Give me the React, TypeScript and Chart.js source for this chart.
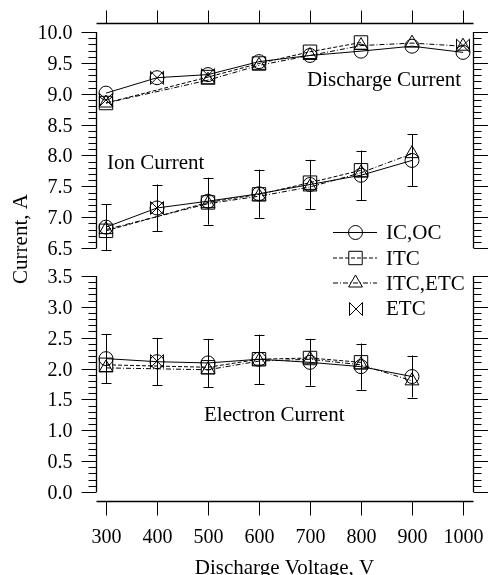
import React, { useEffect, useRef } from "react";
import { Chart, registerables } from "chart.js";

Chart.register(...registerables);

// Discharge voltage, V
const voltages = [300, 400, 500, 600, 700, 800, 900, 1000];

// Discharge current, A
const dischargeICOC = [9.01, 9.26, 9.31, 9.52, 9.62, 9.69, 9.77, 9.67];
const dischargeITC = [8.85, null, 9.27, 9.49, 9.68, 9.83, null, null];
const dischargeITCETC = [8.85, null, 9.22, 9.46, 9.62, 9.78, 9.82, 9.77];
const dischargeETC = [8.9, 9.26, 9.3, null, null, null, null, 9.78];

// Ion current, A
const ionICOC = [6.84, 7.15, 7.26, 7.38, 7.53, 7.68, 7.92, null];
const ionICOCErr = [0.37, 0.38, 0.38, 0.39, 0.4, 0.4, 0.42, null];
const ionITC = [6.78, null, 7.24, 7.37, 7.56, 7.76, null, null];
const ionITCETC = [6.8, null, 7.22, 7.34, 7.49, 7.72, 8.03, null];
const ionETC = [null, 7.15, null, null, null, null, null, null];

// Electron current, A
const electronICOC = [2.16, 2.11, 2.09, 2.15, 2.1, 2.03, 1.87, null];
const electronICOCErr = [0.4, 0.385, 0.39, 0.4, 0.38, 0.375, 0.34, null];
const electronITC = [2.06, null, 2.02, 2.15, 2.17, 2.1, null, null];
const electronITCETC = [2.01, null, 1.98, 2.12, 2.15, 2.06, 1.8, null];
const electronETC = [null, 2.12, null, null, null, null, null, null];

// Axis ticks
const xTickValues = [300, 400, 500, 600, 700, 800, 900, 1000];
const yTicksLower = [0.0, 0.5, 1.0, 1.5, 2.0, 2.5, 3.0, 3.5];
const yTicksUpper = [6.5, 7.0, 7.5, 8.0, 8.5, 9.0, 9.5, 10.0];

const legendLabels = ["IC,OC", "ITC", "ITC,ETC", "ETC"];
const regionLabels = ["Discharge Current", "Ion Current", "Electron Current"];
const xTitle = "Discharge Voltage, V";
const yTitle = "Current, A";

// Broken current axis: 3.5 A and 6.5 A sit next to each other
const BREAK_LOW = 3.5;
const BREAK_HIGH = 6.5;
const BREAK_GAP = 0.45;
const mapY = (v: number) => (v <= BREAK_LOW ? v : v - BREAK_HIGH + BREAK_LOW + BREAK_GAP);

const SERIF = "'Liberation Serif', 'Times New Roman', serif";
const TICK_FONT = `20px ${SERIF}`;
const TEXT_FONT = `21px ${SERIF}`;

function makeBowtie(): HTMLCanvasElement {
  const c = document.createElement("canvas");
  c.width = 16;
  c.height = 16;
  const g = c.getContext("2d")!;
  g.strokeStyle = "#000";
  g.lineWidth = 1;
  g.beginPath();
  g.moveTo(1.5, 1.5);
  g.lineTo(1.5, 14.5);
  g.moveTo(14.5, 1.5);
  g.lineTo(14.5, 14.5);
  g.moveTo(1.5, 1.5);
  g.lineTo(14.5, 14.5);
  g.moveTo(1.5, 14.5);
  g.lineTo(14.5, 1.5);
  g.stroke();
  return c;
}

type Series = {
  label: string;
  dash: number[];
  style: any;
  radius: number;
  showLine: boolean;
};

function toPoints(vals: (number | null)[]) {
  const pts: { x: number; y: number }[] = [];
  vals.forEach((v, i) => {
    if (v !== null) pts.push({ x: voltages[i], y: mapY(v) });
  });
  return pts;
}

function drawMarker(ctx: CanvasRenderingContext2D, s: Series, x: number, y: number) {
  ctx.beginPath();
  if (s.style === "circle") {
    ctx.arc(x, y, s.radius, 0, Math.PI * 2);
    ctx.stroke();
  } else if (s.style === "rect") {
    const h = s.radius * Math.SQRT1_2;
    ctx.rect(x - h, y - h, 2 * h, 2 * h);
    ctx.stroke();
  } else if (s.style === "triangle") {
    const r = s.radius;
    ctx.moveTo(x, y - r);
    ctx.lineTo(x + r * Math.cos(Math.PI / 6), y + r / 2);
    ctx.lineTo(x - r * Math.cos(Math.PI / 6), y + r / 2);
    ctx.closePath();
    ctx.stroke();
  } else {
    const img = s.style as HTMLCanvasElement;
    ctx.drawImage(img, Math.round(x - img.width / 2), Math.round(y - img.height / 2));
  }
}

export default function App() {
  const ref = useRef<HTMLCanvasElement | null>(null);

  useEffect(() => {
    const canvas = ref.current;
    if (!canvas) return;
    const bowtie = makeBowtie();

    const series: Series[] = [
      { label: legendLabels[0], dash: [], style: "circle", radius: 7, showLine: true },
      { label: legendLabels[1], dash: [4, 2], style: "rect", radius: 9.5, showLine: true },
      { label: legendLabels[2], dash: [5, 2, 1, 2], style: "triangle", radius: 8, showLine: true },
      { label: legendLabels[3], dash: [], style: bowtie, radius: 7, showLine: false },
    ];

    const groups: (number | null)[][][] = [
      [dischargeICOC, dischargeITC, dischargeITCETC, dischargeETC],
      [ionICOC, ionITC, ionITCETC, ionETC],
      [electronICOC, electronITC, electronITCETC, electronETC],
    ];

    const datasets: any[] = [];
    groups.forEach((g) => {
      g.forEach((vals, si) => {
        const s = series[si];
        datasets.push({
          label: s.label,
          data: toPoints(vals),
          borderColor: "#000",
          borderWidth: 1,
          borderDash: s.dash,
          showLine: s.showLine,
          fill: false,
          tension: 0,
          pointStyle: s.style,
          pointRadius: s.radius,
          pointHoverRadius: s.radius,
          pointBorderColor: "#000",
          pointBackgroundColor: "rgba(0,0,0,0)",
          pointBorderWidth: 1,
          clip: false,
        });
      });
    });

    const errorSets: [(number | null)[], (number | null)[]][] = [
      [ionICOC, ionICOCErr],
      [electronICOC, electronICOCErr],
    ];

    const decor = {
      id: "decor",
      afterDatasetsDraw(chart: any) {
        const ctx = chart.ctx as CanvasRenderingContext2D;
        const xs = chart.scales.x;
        const ys = chart.scales.y;
        ctx.save();
        ctx.strokeStyle = "#000";
        ctx.lineWidth = 1;
        ctx.setLineDash([]);
        // error bars
        errorSets.forEach(([vals, errs]) => {
          vals.forEach((v, i) => {
            const e = errs[i];
            if (v === null || e === null) return;
            const px = Math.round(xs.getPixelForValue(voltages[i])) + 0.5;
            const top = ys.getPixelForValue(mapY(v + e));
            const bot = ys.getPixelForValue(mapY(v - e));
            ctx.beginPath();
            ctx.moveTo(px, top);
            ctx.lineTo(px, bot);
            ctx.moveTo(px - 5, Math.round(top) + 0.5);
            ctx.lineTo(px + 5, Math.round(top) + 0.5);
            ctx.moveTo(px - 5, Math.round(bot) + 0.5);
            ctx.lineTo(px + 5, Math.round(bot) + 0.5);
            ctx.stroke();
          });
        });
        ctx.restore();
      },
      afterDraw(chart: any) {
        const ctx = chart.ctx as CanvasRenderingContext2D;
        const xs = chart.scales.x;
        const ys = chart.scales.y;
        const area = chart.chartArea;
        const leftX = Math.round(area.left - 10) + 0.5;
        const rightX = Math.round(area.right + 10) + 0.5;
        const topY = Math.round(area.top - 9) + 0.5;
        const botY = Math.round(area.bottom + 9) + 0.5;
        ctx.save();
        ctx.strokeStyle = "#000";
        ctx.fillStyle = "#000";
        ctx.setLineDash([]);

        // vertical axes, drawn in two segments around the break
        const segments: [number, number][] = [
          [yTicksLower[0], yTicksLower[yTicksLower.length - 1]],
          [yTicksUpper[0], yTicksUpper[yTicksUpper.length - 1]],
        ];
        segments.forEach(([lo, hi]) => {
          const pLo = ys.getPixelForValue(mapY(lo));
          const pHi = ys.getPixelForValue(mapY(hi));
          ctx.lineWidth = 1.3;
          ctx.beginPath();
          ctx.moveTo(leftX, pLo);
          ctx.lineTo(leftX, pHi);
          ctx.moveTo(rightX, pLo);
          ctx.lineTo(rightX, pHi);
          ctx.stroke();
          ctx.lineWidth = 1;
          const steps = Math.round((hi - lo) / 0.1);
          for (let k = 0; k <= steps; k++) {
            const v = lo + k * 0.1;
            const major = k % 5 === 0;
            const py = Math.round(ys.getPixelForValue(mapY(v))) + 0.5;
            const len = major ? 15 : 8;
            ctx.beginPath();
            ctx.moveTo(leftX - len, py);
            ctx.lineTo(leftX, py);
            ctx.moveTo(rightX, py);
            ctx.lineTo(rightX + len, py);
            ctx.stroke();
          }
        });

        // y tick labels
        ctx.font = TICK_FONT;
        ctx.textAlign = "right";
        ctx.textBaseline = "alphabetic";
        [...yTicksLower, ...yTicksUpper].forEach((v) => {
          const py = ys.getPixelForValue(mapY(v));
          ctx.fillText(v.toFixed(1), leftX - 24, py + 7);
        });

        // horizontal axes
        ctx.lineWidth = 1.3;
        ctx.beginPath();
        ctx.moveTo(leftX, topY);
        ctx.lineTo(rightX, topY);
        ctx.moveTo(leftX, botY);
        ctx.lineTo(rightX, botY);
        ctx.stroke();
        ctx.lineWidth = 1;
        ctx.textAlign = "center";
        xTickValues.forEach((v) => {
          const px = Math.round(xs.getPixelForValue(v)) + 0.5;
          ctx.beginPath();
          ctx.moveTo(px, topY - 13);
          ctx.lineTo(px, topY);
          ctx.moveTo(px, botY);
          ctx.lineTo(px, botY + 14);
          ctx.stroke();
          ctx.fillText(String(v), px, botY + 41);
        });

        // axis titles
        ctx.font = TEXT_FONT;
        ctx.fillText(xTitle, (area.left + area.right) / 2, 574);
        ctx.save();
        ctx.translate(27, 239);
        ctx.rotate(-Math.PI / 2);
        ctx.textAlign = "center";
        ctx.fillText(yTitle, 0, 0);
        ctx.restore();

        // region labels
        ctx.textAlign = "left";
        ctx.fillText(regionLabels[0], 307, 86);
        ctx.fillText(regionLabels[1], 107, 169);
        ctx.fillText(regionLabels[2], 204, 421);

        // legend
        const rowY = [232, 257.5, 282.5, 308];
        series.forEach((s, i) => {
          const cy = rowY[i];
          ctx.save();
          ctx.lineWidth = 1;
          ctx.strokeStyle = "#000";
          if (s.showLine) {
            ctx.setLineDash(s.dash);
            ctx.beginPath();
            ctx.moveTo(333, cy + 0.5);
            ctx.lineTo(377, cy + 0.5);
            ctx.stroke();
          }
          ctx.setLineDash([]);
          drawMarker(ctx, s, 355.5, cy + 0.5);
          ctx.restore();
          ctx.fillStyle = "#000";
          ctx.fillText(s.label, 386, cy + 7);
        });

        ctx.restore();
      },
    };

    const chart = new Chart(canvas, {
      type: "line",
      data: { datasets },
      options: {
        responsive: false,
        animation: false,
        events: [],
        layout: { padding: { left: 106, right: 25, top: 32, bottom: 83 } },
        plugins: { legend: { display: false }, tooltip: { enabled: false }, title: { display: false } },
        scales: {
          x: { type: "linear", min: 300, max: 1000, display: false },
          y: { type: "linear", min: 0, max: mapY(10), display: false },
        },
      },
      plugins: [decor],
    });

    return () => chart.destroy();
  }, []);

  return (
    <div style={{ position: "fixed", left: 0, top: 0, width: 488, height: 575, background: "#fff" }}>
      <canvas ref={ref} width={488} height={575} style={{ display: "block" }} />
    </div>
  );
}
